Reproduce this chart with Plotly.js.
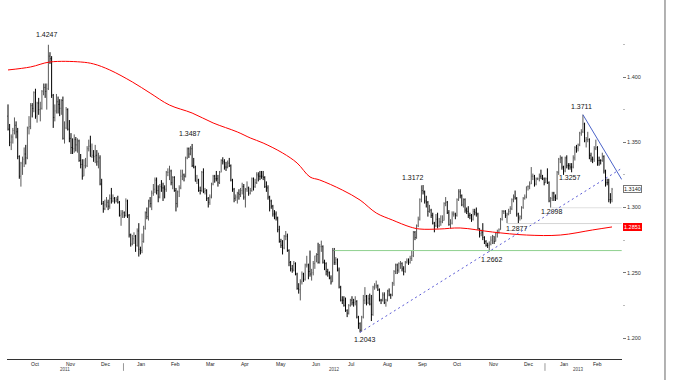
<!DOCTYPE html>
<html><head><meta charset="utf-8">
<script src="https://cdn.plot.ly/plotly-3.0.1.min.js"></script>
<style>html,body{margin:0;padding:0;background:#fff}#chart{width:673px;height:380px}</style>
</head><body><div id="chart"></div>
<script>
// EUR/USD daily bars, 22 Sep 2011 - 27 Feb 2013 (weekdays). Prices in pips above 1.0000.
const firstDay = '2011-09-22';
const lastDay = '2013-02-27';

const openP = [
3700,3600,3500,3540,3590,3630,3580,
3390,3240,3340,3370,3410,3380,3610,3620,3780,3760,3880,3700,3800,3750,3760,3890,3920,3890,3910,4160,4140,
3860,3690,3740,3810,3790,3760,3820,3530,3610,3750,3600,3530,3460,3450,3520,3480,3510,3360,3330,3240,3320,3320,
3450,3470,3390,3400,3390,3400,3350,3380,3180,3030,2990,3020,3040,3010,3070,3050,3070,3050,3060,3040,2940,2950,
2960,2940,3050,2940,2790,2720,2760,2780,2710,2820,2680,2670,2740,2840,2960,2930,3050,3030,3110,3140,3210,3130,
3080,3160,3150,3150,3140,3270,3270,3280,3190,3230,3130,3030,3120,3150,3240,3250,3240,3380,3450,3410,3450,
3320,3310,3200,3210,3130,3130,3270,3120,3130,3070,3040,3080,3180,3240,3220,3220,3190,3270,3360,3350,3310,3310,
3340,3320,3210,3140,3070,3080,3110,3100,3130,3160,3080,3140,3150,3110,3130,3220,3160,3190,3250,3240,3240,
3240,3230,3160,3150,3080,3050,3010,2950,2950,2920,2830,2740,2710,2690,2780,2780,2670,2580,2530,2520,2570,2490,2380,
2370,2430,2490,2450,2560,2560,2510,2490,2500,2570,2630,2640,2580,2700,2700,2580,2570,2510,2500,2460,2430,
2670,2580,2600,2520,2390,2290,2290,2250,2210,2190,2250,2290,2270,2270,2280,2160,2110,2060,2160,2290,2320,2270,
2300,2260,2180,2390,2400,2400,2370,2290,2290,2330,2270,2290,2360,2330,2330,2420,2510,2560,2520,2570,2570,2530,2510,
2580,2590,2580,2610,2630,2810,2770,2860,2910,3060,3130,3120,3050,3040,2970,2980,2940,2880,2860,2910,
2860,2890,2890,2900,3030,3040,2960,2870,2880,2950,2950,2940,3060,3120,3090,3020,3060,2980,2970,2940,2940,2910,2970,
2960,2950,2840,2800,2810,2770,2740,2710,2710,2720,2750,2780,2740,2800,2810,2830,2910,2970,2970,2940,2950,2970,
2990,3060,3080,3070,2950,2920,2930,3000,3070,3080,3160,3160,3180,3240,3240,3180,3220,3220,3240,3220,3220,
3190,3220,3190,3050,3070,3110,3080,3070,3270,3370,3380,3310,3280,3380,3320,3320,3310,3310,3380,3460,3450,3480,3570,
3580,3640,3510,3520,3520,3400,3370,3370,3450,3460,3360,3360,3360,3390,3280,3190,3190,3060,3060];

const highP = [
3790,3640,3560,3610,3690,3660,3610,
3400,3350,3390,3460,3480,3620,3700,3800,3800,3890,3910,3810,3840,3810,3900,3950,3950,3950,4247,4190,4160,
3870,3790,3870,3850,3830,3830,3850,3660,3770,3760,3670,3570,3530,3560,3540,3530,3520,3410,3370,3370,3380,3470,
3520,3550,3490,3440,3480,3440,3420,3400,3220,3050,3060,3080,3060,3100,3150,3100,3080,3080,3090,3050,2980,2980,
2970,3070,3060,2950,2800,2790,2810,2790,2840,2880,2700,2800,2860,2970,3000,3060,3080,3130,3180,3230,3230,3170,
3180,3210,3190,3170,3280,3300,3320,3290,3240,3240,3150,3130,3170,3290,3290,3260,3390,3460,3460,3470,3487,
3380,3320,3250,3220,3160,3280,3300,3150,3140,3080,3100,3190,3250,3250,3280,3250,3280,3370,3385,3370,3350,3360,
3380,3330,3220,3150,3100,3120,3140,3150,3190,3180,3150,3200,3160,3150,3230,3230,3220,3270,3270,3280,3280,
3280,3240,3200,3170,3090,3060,3020,2980,2970,2930,2860,2760,2750,2790,2820,2800,2680,2590,2560,2590,2580,2500,2420,
2450,2510,2500,2570,2630,2570,2670,2530,2590,2630,2650,2730,2720,2746,2710,2600,2580,2530,2510,2480,2690,
2690,2620,2610,2540,2400,2320,2320,2310,2220,2260,2300,2320,2300,2320,2290,2170,2120,2170,2330,2390,2330,2330,
2340,2330,2400,2420,2440,2410,2380,2300,2350,2350,2300,2370,2380,2340,2430,2520,2570,2570,2580,2590,2580,2550,2590,
2610,2610,2630,2670,2820,2820,2870,2930,3070,3170,3172,3130,3090,3050,3020,2990,2960,2890,2950,2960,
2920,2940,2940,3040,3080,3050,2980,2910,2970,2970,2960,3070,3140,3140,3100,3070,3070,3000,3010,2960,2950,2990,2990,
3000,2960,2840,2830,2880,2780,2750,2730,2740,2780,2790,2780,2810,2830,2840,2920,2980,2980,2980,2960,2990,3010,
3070,3100,3130,3080,2960,2940,3010,3080,3100,3160,3170,3200,3310,3260,3250,3230,3230,3260,3290,3250,3230,
3230,3300,3200,3080,3120,3120,3100,3280,3380,3400,3390,3320,3390,3400,3340,3340,3340,3400,3470,3480,3490,3580,3600,
3711,3650,3540,3580,3530,3420,3390,3470,3520,3470,3390,3370,3420,3400,3290,3220,3220,3110,3150];

const lowP = [
3590,3470,3440,3490,3560,3530,3370,
3220,3160,3250,3310,3330,3370,3560,3600,3690,3730,3680,3650,3710,3660,3750,3860,3840,3750,3900,4100,3840,
3610,3660,3720,3720,3700,3710,3520,3490,3600,3590,3500,3410,3410,3420,3430,3420,3350,3300,3213,3240,3300,3310,
3430,3390,3380,3350,3340,3320,3300,3170,3020,2960,2980,3000,2980,2990,3030,3040,3030,3040,3030,2930,2860,2920,
2920,2930,2920,2770,2700,2710,2720,2660,2700,2624,2640,2650,2730,2830,2910,2900,3000,2980,3090,3110,3100,3040,
3070,3120,3050,3070,3120,3240,3210,3170,3140,3120,2970,3000,3080,3140,3210,3200,3230,3370,3380,3400,3310,
3300,3200,3180,3120,3100,3120,3110,3100,3050,3000,3020,3070,3170,3190,3200,3160,3180,3270,3330,3290,3280,3300,
3310,3200,3120,3040,3050,3030,3060,3080,3100,3060,3000,3120,3090,3100,3120,3130,3150,3180,3200,3210,3220,
3210,3150,3120,3060,2970,2990,2930,2910,2900,2810,2730,2690,2640,2680,2750,2660,2550,2510,2500,2510,2480,2370,2340,
2288,2410,2430,2440,2540,2450,2470,2440,2480,2530,2580,2570,2570,2660,2570,2520,2480,2470,2450,2410,2430,
2560,2560,2510,2380,2280,2260,2240,2200,2160,2180,2240,2250,2240,2250,2150,2070,2043,2050,2150,2260,2250,2260,
2250,2130,2170,2370,2380,2360,2280,2260,2280,2260,2240,2280,2320,2300,2320,2400,2490,2490,2500,2530,2510,2480,2500,
2570,2560,2570,2590,2620,2750,2760,2850,2900,3040,3100,3030,3000,2930,2960,2920,2870,2810,2850,2840,
2850,2860,2880,2900,3010,2950,2860,2840,2870,2930,2910,2930,3050,3070,3010,3000,2960,2950,2920,2910,2890,2900,2940,
2930,2830,2770,2780,2750,2720,2700,2690,2662,2710,2720,2720,2740,2770,2800,2830,2900,2950,2920,2880,2940,2950,
2980,3040,3060,2930,2877,2900,2910,2990,3060,3070,3130,3140,3180,3210,3160,3170,3210,3200,3220,3210,3170,
3190,3180,3040,2998,3050,3050,3050,3060,3250,3340,3290,3250,3270,3300,3290,3290,3270,3300,3360,3420,3430,3470,3550,
3570,3500,3460,3500,3370,3350,3340,3350,3440,3320,3320,3330,3350,3260,3160,3170,3040,3030,3040];

const closeP = [
3600,3500,3540,3590,3630,3580,3390,
3240,3340,3370,3410,3380,3610,3620,3780,3760,3880,3700,3800,3750,3760,3890,3920,3890,3910,4160,4140,3860,
3690,3740,3810,3790,3760,3820,3530,3610,3750,3600,3530,3460,3450,3520,3480,3510,3360,3330,3240,3320,3320,3450,
3470,3390,3400,3390,3400,3350,3380,3180,3030,2990,3020,3040,3010,3070,3050,3070,3050,3060,3040,2940,2950,2960,
2940,3050,2940,2790,2720,2760,2780,2710,2820,2680,2670,2740,2840,2960,2930,3050,3030,3110,3140,3210,3130,3080,
3160,3150,3150,3140,3270,3270,3280,3190,3230,3130,3030,3120,3150,3240,3250,3240,3380,3450,3410,3450,3320,
3310,3200,3210,3130,3130,3270,3120,3130,3070,3040,3080,3180,3240,3220,3220,3190,3270,3360,3350,3310,3310,3340,
3320,3210,3140,3070,3080,3110,3100,3130,3160,3080,3140,3150,3110,3130,3220,3160,3190,3250,3240,3240,3240,
3230,3160,3150,3080,3050,3010,2950,2950,2920,2830,2740,2710,2690,2780,2780,2670,2580,2530,2520,2570,2490,2380,2370,
2430,2490,2450,2560,2560,2510,2490,2500,2570,2630,2640,2580,2700,2700,2580,2570,2510,2500,2460,2430,2670,
2580,2600,2520,2390,2290,2290,2250,2210,2190,2250,2290,2270,2270,2280,2160,2110,2060,2160,2290,2320,2270,2300,
2260,2180,2390,2400,2400,2370,2290,2290,2330,2270,2290,2360,2330,2330,2420,2510,2560,2520,2570,2570,2530,2510,2580,
2590,2580,2610,2630,2810,2770,2860,2910,3060,3130,3120,3050,3040,2970,2980,2940,2880,2860,2910,2860,
2890,2890,2900,3030,3040,2960,2870,2880,2950,2950,2940,3060,3120,3090,3020,3060,2980,2970,2940,2940,2910,2970,2960,
2950,2840,2800,2810,2770,2740,2710,2710,2720,2750,2780,2740,2800,2810,2830,2910,2970,2970,2940,2950,2970,2990,
3060,3080,3070,2950,2920,2930,3000,3070,3080,3160,3160,3180,3240,3240,3180,3220,3220,3240,3220,3220,3190,
3220,3190,3050,3070,3110,3080,3070,3270,3370,3380,3310,3280,3380,3320,3320,3310,3310,3380,3460,3450,3480,3570,3580,
3640,3510,3520,3520,3400,3370,3370,3450,3460,3360,3360,3360,3390,3280,3190,3190,3060,3060,3140];

// red moving average, read at bar indexes
const maIdx = [0,14,26,45,53,63,77,88,100,114,127,142,150,158,170,179,187,193,207,218,228,238,249,255,267,280,300,321,342,362,374];
const maVal = [1.4054,1.4077,1.4115,1.4115,1.4100,1.4054,1.3962,1.3877,1.3785,1.3724,1.3648,1.3579,1.3533,1.3494,1.3418,1.3341,1.3234,1.3211,1.3134,1.3057,1.2958,1.2904,1.2851,1.2835,1.2835,1.2843,1.2812,1.2789,1.2789,1.2828,1.2851];

// right-axis tick values
const axisTicks = [1.20, 1.25, 1.30, 1.35, 1.40];
const axisTickText = ['1.200', '1.250', '1.300', '1.350', '1.400'];
const axisMinor = [1.225, 1.275, 1.325, 1.375, 1.425];

// drawn lines (bar index, price)
const supportX = [218, 380], supportY = [1.2043, 1.3300];     // dashed rising trendline
const resistX = [356, 380], resistY = [1.3711, 1.3215];       // falling trendline
const greenX = [202, 380], greenY = [1.2670, 1.2670];
const grey1X = [309, 380], grey1Y = [1.2877, 1.2877];
const grey2X = [336, 380], grey2Y = [1.2998, 1.2998];

// price labels
const labelText = ['1.4247','1.3487','1.3172','1.2043','1.2662','1.2877','1.2998','1.3257','1.3711'];
const labelIdx  = [25,114,257,218,298,316,336,340,356];
const labelVal  = [1.4247,1.3487,1.3172,1.2043,1.2662,1.2877,1.2998,1.3257,1.3711];
const labelShift = [[-1,10],[-2,10],[-10,8],[5,-7],[3,-7.5],[-1,-4.5],[1,-3.5],[13,-4],[-1,8]];

const monthNames = ['Jan','Feb','Mar','Apr','May','Jun','Jul','Aug','Sep','Oct','Nov','Dec'];

// trading-day calendar
function tradingDays(a, b) {
  const out = []; const d = new Date(a + 'T00:00:00Z'); const e = new Date(b + 'T00:00:00Z');
  while (d <= e) { const w = d.getUTCDay(); if (w !== 0 && w !== 6) out.push(new Date(d)); d.setUTCDate(d.getUTCDate() + 1); }
  return out;
}
const days = tradingDays(firstDay, lastDay);
const idx = days.map((_, i) => i);
const toPrice = v => 1 + v / 10000;

const months = []; const years = [];
days.forEach((d, i) => {
  const key = d.getUTCFullYear() * 12 + d.getUTCMonth();
  if (!months.length || months[months.length - 1].key !== key) months.push({key, m: d.getUTCMonth(), first: i, last: i});
  else months[months.length - 1].last = i;
  const y = d.getUTCFullYear();
  if (!years.length || years[years.length - 1].y !== y) years.push({y, first: i, last: i});
  else years[years.length - 1].last = i;
});

const FONT = 'Liberation Sans, Arial, sans-serif';
const lblFont = {family: FONT, size: 7, color: '#111'};
const annotations = [];
labelText.forEach((t, k) => annotations.push({x: labelIdx[k], y: labelVal[k], xref: 'x', yref: 'y', text: t, showarrow: false,
  xanchor: 'center', yanchor: 'middle', xshift: labelShift[k][0], yshift: labelShift[k][1], font: lblFont}));
months.forEach(mo => { if (mo.last - mo.first + 1 >= 10) annotations.push({x: (mo.first + mo.last) / 2, y: 0, xref: 'x', yref: 'paper',
  text: monthNames[mo.m], showarrow: false, xanchor: 'center', yanchor: 'middle', yshift: -4.5,
  font: {family: FONT, size: 5, color: '#222'}}); });
years.forEach(y => annotations.push({x: (y.first + y.last) / 2, y: 0, xref: 'x', yref: 'paper', text: String(y.y), showarrow: false,
  xanchor: 'center', yanchor: 'middle', yshift: -10, font: {family: FONT, size: 4.5, color: '#444'}}));

const lastClose = toPrice(closeP[closeP.length - 1]);
const lastMA = maVal[maVal.length - 1];
annotations.push({x: 1, y: lastClose, xref: 'paper', yref: 'y', text: lastClose.toFixed(4), showarrow: false, xanchor: 'left', xshift: 1,
  bgcolor: '#fff', bordercolor: '#777', borderwidth: 1, borderpad: 0, font: {family: FONT, size: 5.5, color: '#222'}});
annotations.push({x: 1, y: lastMA, xref: 'paper', yref: 'y', text: lastMA.toFixed(4), showarrow: false, xanchor: 'left', xshift: 1,
  bgcolor: '#ff0000', bordercolor: '#ff0000', borderwidth: 1, borderpad: 0, font: {family: FONT, size: 5.5, color: '#fff'}});

const shapes = [];
years.slice(1).forEach(y => shapes.push({type: 'line', xref: 'x', yref: 'paper', x0: y.first - 0.5, x1: y.first - 0.5, y0: -0.012, y1: -0.034, line: {color: '#999', width: 1}}));
shapes.push({type: 'line', xref: 'paper', yref: 'paper', x0: 1.0699, x1: 1.0699, y0: -0.07, y1: 1.04, line: {color: '#666', width: 1}});

const traces = [
  {type: 'scatter', mode: 'lines', x: greenX, y: greenY, line: {color: '#8fd18f', width: 1}, hoverinfo: 'skip'},
  {type: 'scatter', mode: 'lines', x: grey1X, y: grey1Y, line: {color: '#d6d6d6', width: 1}, hoverinfo: 'skip'},
  {type: 'scatter', mode: 'lines', x: grey2X, y: grey2Y, line: {color: '#e0e0e0', width: 1}, hoverinfo: 'skip'},
  {type: 'ohlc', x: idx, open: openP.map(toPrice), high: highP.map(toPrice), low: lowP.map(toPrice), close: closeP.map(toPrice),
   increasing: {line: {color: '#5a5a5a', width: 1}}, decreasing: {line: {color: '#000', width: 1}}, tickwidth: 0.3, hoverinfo: 'skip'},
  {type: 'scatter', mode: 'lines', x: maIdx, y: maVal, line: {color: '#ff0000', width: 1, shape: 'spline', smoothing: 1}, hoverinfo: 'skip'},
  {type: 'scatter', mode: 'lines', x: supportX, y: supportY, line: {color: '#5c5cd6', width: 1, dash: '2px,3px'}, hoverinfo: 'skip'},
  {type: 'scatter', mode: 'lines', x: resistX, y: resistY, line: {color: '#4a62c8', width: 1}, hoverinfo: 'skip'}
];

const layout = {
  width: 673, height: 380, margin: {l: 7, r: 51, t: 10, b: 21},
  paper_bgcolor: '#fff', plot_bgcolor: '#fff', showlegend: false, hovermode: false,
  xaxis: {range: [-0.62, 380.19], showgrid: false, zeroline: false, showline: true, linecolor: '#333', linewidth: 1,
          showticklabels: false, ticks: '', rangeslider: {visible: false}, fixedrange: true},
  yaxis: {side: 'right', range: [1.18391, 1.45134], showgrid: false, zeroline: false, showline: false,
          tickmode: 'array', tickvals: axisTicks, ticktext: axisTickText, ticks: 'outside', ticklen: 3, tickcolor: '#777',
          tickfont: {family: FONT, size: 5.5, color: '#333'},
          minor: {tickmode: 'array', tickvals: axisMinor, ticks: 'outside', ticklen: 2, tickcolor: '#bbb'}, fixedrange: true},
  annotations, shapes
};
Plotly.newPlot('chart', traces, layout, {staticPlot: true, displayModeBar: false});
</script>
</body></html>
